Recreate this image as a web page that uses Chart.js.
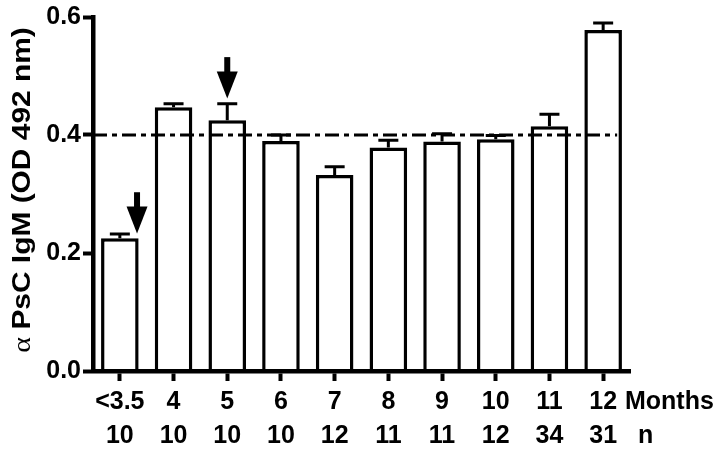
<!DOCTYPE html>
<html>
<head>
<meta charset="utf-8">
<script src="https://cdn.jsdelivr.net/npm/chart.js@4.4.0/dist/chart.umd.min.js"></script>
<style>
    html, body { margin: 0; padding: 0; background: #fff; }
</style>
</head>
<body>
<canvas id="chart" width="720" height="449"></canvas>
<script>
const months = ['<3.5', '4', '5', '6', '7', '8', '9', '10', '11', '12'];
const counts = ['10', '10', '10', '10', '12', '11', '11', '12', '34', '31'];
const means = [0.225, 0.447, 0.425, 0.390, 0.332, 0.379, 0.389, 0.393, 0.415, 0.578];
const sems = [0.007, 0.006, 0.028, 0.010, 0.014, 0.012, 0.013, 0.006, 0.020, 0.012];
const yTicks = [0, 0.2, 0.4, 0.6];
const refLevel = 0.4;
// arrows: category position, start value, tip value
const arrowAt = [0.32, 2];
const arrowFrom = [0.303, 0.532];
const arrowTo = [0.233, 0.462];

const SANS = "'Liberation Sans', Arial, sans-serif";
const FONT_SIZE = 25;
const LINE_H = 1.36;
const TICK_LEN = 10;
const X_PAD = 4;

const extras = {
    id: 'extras',
    afterDatasetsDraw(chart) {
        const { ctx, chartArea, scales: { x, y } } = chart;
        ctx.save();
        ctx.strokeStyle = '#000';
        ctx.fillStyle = '#000';

        // error bars (upper only)
        ctx.lineWidth = 3;
        means.forEach((m, i) => {
            const cx = x.getPixelForValue(i);
            const top = y.getPixelForValue(m);
            const end = y.getPixelForValue(m + sems[i]);
            ctx.beginPath();
            ctx.moveTo(cx, top);
            ctx.lineTo(cx, end);
            ctx.moveTo(cx - 10, end);
            ctx.lineTo(cx + 10, end);
            ctx.stroke();
        });

        // dash-dot reference line
        const ry = y.getPixelForValue(refLevel);
        ctx.lineWidth = 3;
        ctx.setLineDash([14, 5, 5, 5]);
        ctx.beginPath();
        ctx.moveTo(chartArea.left, ry);
        ctx.lineTo(x.getPixelForValue(months.length - 1) + 14, ry);
        ctx.stroke();
        ctx.setLineDash([]);

        // arrows
        arrowAt.forEach((pos, i) => {
            const ax = x.getPixelForValue(pos);
            const y0 = y.getPixelForValue(arrowFrom[i]);
            const y1 = y.getPixelForValue(arrowTo[i]);
            const head = 27;
            ctx.fillRect(ax - 3, y0, 6, y1 - y0 - head + 1);
            ctx.beginPath();
            ctx.moveTo(ax - 10.5, y1 - head);
            ctx.lineTo(ax + 10.5, y1 - head);
            ctx.lineTo(ax, y1);
            ctx.closePath();
            ctx.fill();
        });
        ctx.restore();
    },
    afterDraw(chart) {
        const { ctx, chartArea, scales: { x } } = chart;
        ctx.save();
        ctx.fillStyle = '#000';

        // row captions to the right of the x axis
        const row1 = x.top + TICK_LEN + X_PAD + FONT_SIZE * LINE_H / 2;
        ctx.font = `bold ${FONT_SIZE}px ${SANS}`;
        ctx.textBaseline = 'middle';
        ctx.textAlign = 'left';
        ctx.fillText('Months', chartArea.right - 5, row1);
        ctx.fillText('n', chartArea.right + 8, row1 + FONT_SIZE * LINE_H);

        // y axis title: serif alpha + bold sans text, a bit stretched like the original
        const alpha = 'α ';
        const rest = 'PsC IgM (OD 492 nm)';
        const stretch = 1.15;
        ctx.font = `${FONT_SIZE + 1}px 'Liberation Serif', serif`;
        const wa = ctx.measureText(alpha).width;
        ctx.font = `bold ${FONT_SIZE + 1}px ${SANS}`;
        const wr = ctx.measureText(rest).width;
        const cy = (chartArea.top + chartArea.bottom) / 2 - 4;
        ctx.translate(23, cy);
        ctx.rotate(-Math.PI / 2);
        ctx.scale(stretch, 1);
        const start = -(wa + wr) / 2;
        ctx.font = `${FONT_SIZE + 1}px 'Liberation Serif', serif`;
        ctx.fillText(alpha, start, 0);
        ctx.font = `bold ${FONT_SIZE + 1}px ${SANS}`;
        ctx.fillText(rest, start + wa, 0);
        ctx.restore();
    }
};

new Chart(document.getElementById('chart'), {
    type: 'bar',
    data: {
        labels: months.map((m, i) => [m, counts[i]]),
        datasets: [{
            data: means,
            backgroundColor: '#fff',
            borderColor: '#000',
            borderWidth: 3.5,
            barPercentage: 0.7,
            categoryPercentage: 1.0
        }]
    },
    options: {
        responsive: false,
        animation: false,
        devicePixelRatio: 1,
        layout: { padding: { top: 12, right: 90, left: 0, bottom: 0 } },
        plugins: {
            legend: { display: false },
            tooltip: { enabled: false }
        },
        scales: {
            x: {
                afterFit: scale => { scale.height = 78; },
                grid: {
                    offset: false,
                    drawOnChartArea: false,
                    tickLength: TICK_LEN,
                    tickWidth: 4,
                    tickColor: '#000'
                },
                border: { color: '#000', width: 4.5, z: 1 },
                ticks: {
                    color: '#000',
                    padding: X_PAD,
                    maxRotation: 0,
                    autoSkip: false,
                    font: { family: SANS, size: FONT_SIZE, weight: 'bold', lineHeight: LINE_H }
                }
            },
            y: {
                min: 0,
                max: 0.6,
                afterFit: scale => { scale.width = 93; },
                afterBuildTicks: scale => { scale.ticks = yTicks.map(v => ({ value: v })); },
                grid: {
                    drawOnChartArea: false,
                    tickLength: TICK_LEN,
                    tickWidth: 4,
                    tickColor: '#000'
                },
                border: { color: '#000', width: 4.5, z: 1 },
                ticks: {
                    color: '#000',
                    padding: 2,
                    callback: v => v.toFixed(1),
                    font: { family: SANS, size: FONT_SIZE, weight: 'bold' }
                }
            }
        }
    },
    plugins: [extras]
});
</script>
</body>
</html>
